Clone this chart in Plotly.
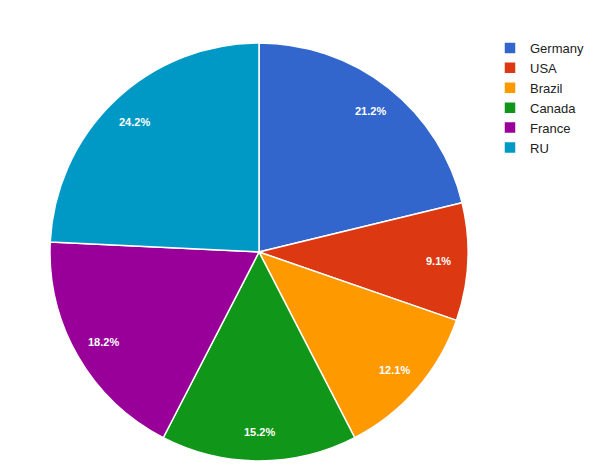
import math
import plotly.graph_objects as go

countries = ["Germany", "USA", "Brazil", "Canada", "France", "RU"]
values = [7, 3, 4, 5, 6, 8]
colors = ["#3366cc", "#dc3912", "#ff9900", "#109618", "#990099", "#0099c6"]

W, H = 600, 475
cx, cy, r = 251, 244, 209  # pie centre/radius in paper pixels
dom_x = [(cx - r) / W, (cx + r) / W]
dom_y = [1 - (cy + r) / H, 1 - (cy - r) / H]

fig = go.Figure(go.Pie(
    labels=countries,
    values=values,
    sort=False,
    direction="clockwise",
    rotation=0,
    marker=dict(colors=colors, line=dict(color="white", width=1.5)),
    textinfo="none",
    domain=dict(x=dom_x, y=dom_y),
    hoverinfo="label+percent",
))

# percentage labels at each slice's mid-angle, 0.86 of the radius
total = sum(values)
cum = 0
annotations = []
for v in values:
    mid = (cum + v / 2) / total * 2 * math.pi
    cum += v
    fx = (dom_x[0] + dom_x[1]) / 2 + 0.86 * (r / W) * math.sin(mid)
    fy = (dom_y[0] + dom_y[1]) / 2 + 0.86 * (r / H) * math.cos(mid)
    annotations.append(dict(
        x=fx, y=fy, xref="paper", yref="paper",
        xanchor="center", yanchor="middle",
        text=f"<b>{v / total * 100:.1f}%</b>", showarrow=False,
        font=dict(family="Arial, Liberation Sans, sans-serif", size=11, color="white"),
    ))

fig.update_layout(
    width=W, height=H,
    margin=dict(l=0, r=0, t=0, b=0),
    paper_bgcolor="white",
    showlegend=True,
    annotations=annotations,
    legend=dict(
        x=482 / W, y=1 - 25 / H, xanchor="left", yanchor="top",
        font=dict(family="Arial, Liberation Sans, sans-serif", size=13, color="#222222"),
        itemwidth=30, tracegroupgap=0,
    ),
)

fig.write_html("out.html")
